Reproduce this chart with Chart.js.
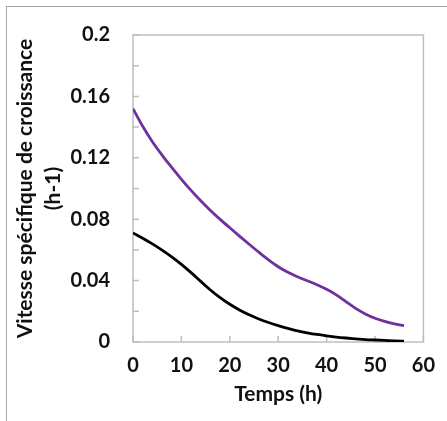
<!DOCTYPE html>
<html>
<head>
<meta charset="utf-8">
<script src="https://cdn.jsdelivr.net/npm/chart.js@4/dist/chart.umd.min.js"></script>
<style>
  body { margin: 0; background: #fff; }
  #wrap { position: relative; width: 447px; height: 421px; overflow: hidden; }
  #edge { position: absolute; left: 6px; top: 6px; width: 500px; height: 500px;
          border-left: 1px solid #a6a6a6; border-top: 1px solid #a6a6a6; }
  canvas { position: absolute; left: 0; top: 0; }
</style>
</head>
<body>
<div id="wrap">
  <div id="edge"></div>
  <canvas id="rateChart" width="447" height="421"></canvas>
</div>
<script>
// time points (h)
const hours = [0, 2, 4, 6, 8, 10, 12, 14, 16, 18, 20, 22, 24, 26, 28, 30, 32, 34, 36, 38, 40, 42, 44, 46, 48, 50, 52, 54, 56];
const purpleRate = [0.152, 0.1405, 0.1305, 0.1218, 0.1137, 0.106, 0.0988, 0.092, 0.0857, 0.0799, 0.0744, 0.069, 0.0637, 0.0585, 0.0535,
                    0.049, 0.0454, 0.0425, 0.0399, 0.0373, 0.0343, 0.0307, 0.0263, 0.0219, 0.0183, 0.0155, 0.0134, 0.0118, 0.0106];
const blackRate = [0.071, 0.0676, 0.0639, 0.0599, 0.0555, 0.0506, 0.0452, 0.0395, 0.0339, 0.0289, 0.0246, 0.0209, 0.0177, 0.015, 0.0127,
                   0.0107, 0.0089, 0.0073, 0.006, 0.0049, 0.004, 0.0032, 0.0026, 0.0021, 0.0016, 0.0013, 0.001, 0.0007, 0.0005];
const xTickValues = [0, 10, 20, 30, 40, 50, 60];
const yTickValues = [0, 0.02, 0.04, 0.06, 0.08, 0.1, 0.12, 0.14, 0.16, 0.18, 0.2];

const font = 'Lato';
const frameColor = '#bfbfbf';

// gray frame round the plot with short inward ticks
const frameTicks = {
    id: 'frameTicks',
    beforeDatasetsDraw(chart) {
        const { ctx, chartArea: a, scales } = chart;
        ctx.save();
        ctx.strokeStyle = frameColor;
        ctx.lineWidth = 1.5;
        ctx.strokeRect(a.left, a.top, a.right - a.left, a.bottom - a.top);
        ctx.beginPath();
        xTickValues.forEach(v => {
            const x = scales.x.getPixelForValue(v);
            ctx.moveTo(x, a.bottom);
            ctx.lineTo(x, a.bottom - 6);
        });
        yTickValues.forEach(v => {
            const y = scales.y.getPixelForValue(v);
            ctx.moveTo(a.left, y);
            ctx.lineTo(a.left + 6, y);
        });
        ctx.stroke();
        ctx.restore();
    }
};

const toPoints = ys => hours.map((h, i) => ({ x: h, y: ys[i] }));

new Chart(document.getElementById('rateChart'), {
    type: 'line',
    data: {
        datasets: [
            { data: toPoints(purpleRate), borderColor: '#7030a0', borderWidth: 2.8, pointRadius: 0, cubicInterpolationMode: 'monotone' },
            { data: toPoints(blackRate), borderColor: '#000000', borderWidth: 2.8, pointRadius: 0, cubicInterpolationMode: 'monotone' }
        ]
    },
    options: {
        responsive: false,
        animation: false,
        events: [],
        layout: { padding: { left: 8, top: 33, right: 21, bottom: 9 } },
        plugins: { legend: { display: false }, tooltip: { enabled: false } },
        scales: {
            x: {
                type: 'linear', min: 0, max: 60,
                grid: { display: false, drawTicks: false },
                border: { display: false },
                afterFit: s => { s.height = 70; },
                ticks: { stepSize: 10, padding: 12, color: '#111', font: { family: font, size: 20, weight: 'bold' } },
                title: { display: true, text: 'Temps (h)', color: '#111', padding: { top: 0, bottom: 5 },
                         font: { family: font, size: 21, weight: 'bold' } }
            },
            y: {
                min: 0, max: 0.2,
                grid: { display: false, drawTicks: false },
                border: { display: false },
                afterFit: s => { s.width = 125; },
                ticks: { stepSize: 0.04, padding: 23, color: '#111',
                         font: { family: font, size: 20, weight: 'bold' },
                         callback: v => String(parseFloat(v.toFixed(2))) },
                title: { display: true, text: ['Vitesse spécifique de croissance', '(h-1)'], color: '#111',
                         padding: { top: 3, bottom: 0 },
                         font: { family: font, size: 21, weight: 'bold', lineHeight: 1.35 } }
            }
        }
    },
    plugins: [frameTicks]
});
</script>
</body>
</html>
